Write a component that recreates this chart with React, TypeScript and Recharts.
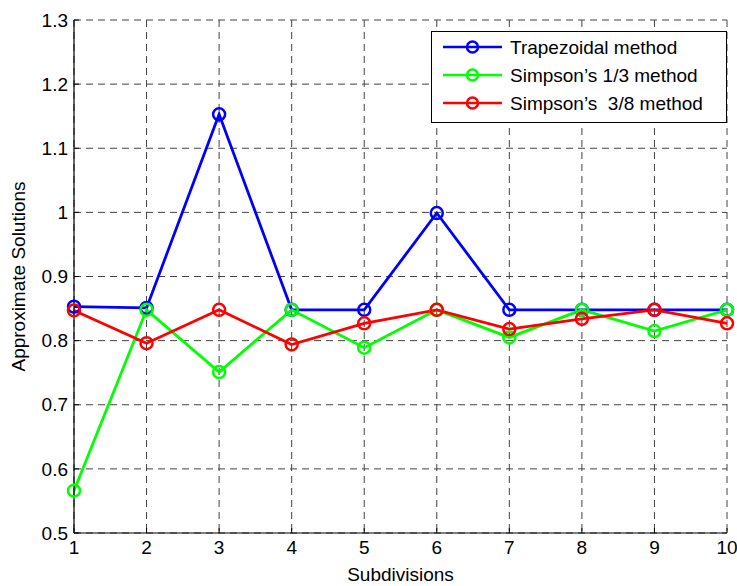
import { LineChart, Line, XAxis, YAxis, CartesianGrid } from 'recharts';

const subdivisions = [1, 2, 3, 4, 5, 6, 7, 8, 9, 10];
const trapezoidal = [0.853, 0.851, 1.153, 0.848, 0.848, 0.999, 0.848, 0.848, 0.848, 0.848];
const simpson13 = [0.566, 0.848, 0.751, 0.848, 0.789, 0.848, 0.805, 0.848, 0.815, 0.848];
const simpson38 = [0.847, 0.796, 0.848, 0.794, 0.827, 0.848, 0.818, 0.834, 0.848, 0.827];
const yTicks = [0.5, 0.6, 0.7, 0.8, 0.9, 1.0, 1.1, 1.2, 1.3];

const seriesInfo = [
  { key: 'trap', name: 'Trapezoidal method', color: '#0000ff' },
  { key: 's13', name: 'Simpson\u2019s 1/3 method', color: '#00ff00' },
  { key: 's38', name: 'Simpson\u2019s  3/8 method', color: '#ff0000' },
];

const data = subdivisions.map((x, i) => ({
  x,
  trap: trapezoidal[i],
  s13: simpson13[i],
  s38: simpson38[i],
}));

const FONT = '"Liberation Sans", Arial, sans-serif';
const AXIS_LINE = { stroke: '#000', strokeWidth: 1.2 };
const TICK_LINE = { stroke: '#000', strokeWidth: 1 };

// legend drawn on top of the chart, not reserved by recharts
function LegendBox() {
  return (
    <svg width={296} height={92} style={{ position: 'absolute', left: 431, top: 31, display: 'block' }}>
      <rect x={0.5} y={0.5} width={295} height={91} fill="#fff" stroke="#000" strokeWidth={1} />
      {seriesInfo.map((s, i) => {
        const cy = 16 + i * 28;
        return (
          <g key={s.key}>
            <line x1={12} x2={71} y1={cy} y2={cy} stroke={s.color} strokeWidth={2.5} />
            <circle cx={41.5} cy={cy} r={5.5} fill="none" stroke={s.color} strokeWidth={2.5} />
            <text x={79} y={cy} dominantBaseline="central" fontSize={19} fontFamily={FONT} fill="#000" style={{ whiteSpace: 'pre' }}>
              {s.name}
            </text>
          </g>
        );
      })}
    </svg>
  );
}

export default function App() {
  return (
    <div style={{ position: 'absolute', left: 0, top: 0, width: 737, height: 586, background: '#fff', fontFamily: FONT }}>
      <LineChart width={737} height={586} data={data} margin={{ top: 20, right: 10, bottom: 0, left: 0 }}>
        <CartesianGrid stroke="#444" strokeDasharray="7 5" strokeWidth={1} />
        <XAxis
          dataKey="x"
          type="number"
          domain={[1, 10]}
          ticks={subdivisions}
          height={53}
          tickSize={-5}
          tickMargin={13}
          tickLine={TICK_LINE}
          axisLine={AXIS_LINE}
          tick={{ fill: '#000', fontSize: 19, fontFamily: FONT }}
          label={{ value: 'Subdivisions', position: 'insideBottom', offset: 5, fill: '#000', fontSize: 19, fontFamily: FONT }}
        />
        <XAxis
          xAxisId="top"
          orientation="top"
          type="number"
          domain={[1, 10]}
          allowDataOverflow
          ticks={subdivisions}
          height={0}
          tickSize={-5}
          tickLine={TICK_LINE}
          axisLine={AXIS_LINE}
          tickFormatter={() => ''}
        />
        <YAxis
          type="number"
          domain={[0.5, 1.3]}
          ticks={yTicks}
          width={74}
          tickSize={-5}
          tickMargin={11}
          tickLine={TICK_LINE}
          axisLine={AXIS_LINE}
          tick={{ fill: '#000', fontSize: 19, fontFamily: FONT }}
          tickFormatter={(v: number) => (Math.abs(v - 1) < 1e-9 ? '1' : v.toFixed(1))}
          label={{
            value: 'Approximate Solutions',
            angle: -90,
            position: 'insideLeft',
            offset: 18,
            fill: '#000',
            fontSize: 19,
            fontFamily: FONT,
            style: { textAnchor: 'middle' },
          }}
        />
        <YAxis
          yAxisId="right"
          orientation="right"
          type="number"
          domain={[0.5, 1.3]}
          allowDataOverflow
          ticks={yTicks}
          width={0}
          tickSize={-5}
          tickLine={TICK_LINE}
          axisLine={AXIS_LINE}
          tickFormatter={() => ''}
        />
        {seriesInfo.map((s) => (
          <Line
            key={s.key}
            dataKey={s.key}
            name={s.name}
            type="linear"
            stroke={s.color}
            strokeWidth={2.8}
            dot={{ r: 6, fill: 'none', stroke: s.color, strokeWidth: 2.5 }}
            activeDot={false}
            isAnimationActive={false}
          />
        ))}
      </LineChart>
      <LegendBox />
    </div>
  );
}
